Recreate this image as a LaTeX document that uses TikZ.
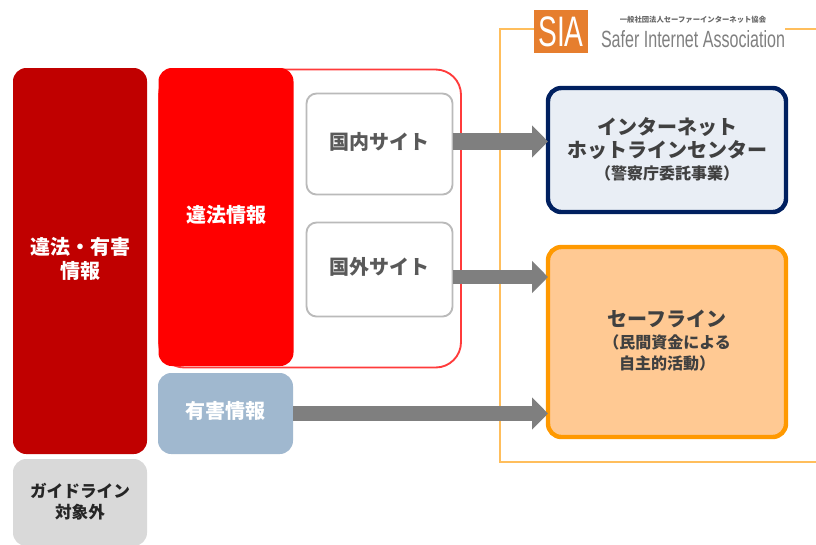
\documentclass[tikz,border=0pt]{standalone}
\usepackage{fontspec}
\setmainfont{Noto Sans CJK JP}
\newfontfamily\latinfont{Liberation Sans}
\usetikzlibrary{arrows.meta}
\definecolor{darkred}{HTML}{C00000}
\definecolor{framecol}{HTML}{FFBE5C}
\definecolor{redline}{HTML}{FF3B3B}
\definecolor{navy}{HTML}{002060}
\definecolor{paleblue}{HTML}{E9EEF5}
\definecolor{orangeline}{HTML}{FF9900}
\definecolor{orangefill}{HTML}{FFC993}
\definecolor{greyblue}{HTML}{A0B8CF}
\definecolor{arrowgrey}{HTML}{7F7F7F}
\definecolor{logoorange}{HTML}{E67E2E}
\tikzset{
  sz/.style 2 args={minimum width=#1*.75pt,minimum height=#2*.75pt},
  base/.style={inner sep=0pt,outer sep=0pt,align=center,font=\bfseries\fontsize{15}{18}\selectfont},
  whitebox/.style={base,text=white,rounded corners=10pt},
  sitebox/.style={base,draw=black!27,line width=1.4pt,fill=white,rounded corners=7.5pt,text=black!65},
  agencybox/.style={base,rounded corners=10pt,line width=3.3pt,text=black!75},
  bigarrow/.style={draw=arrowgrey,line width=#1,-{Triangle[length=12pt,width=23.5pt]}},
}
\newcommand{\subtext}[1]{{\fontsize{12}{15.5}\selectfont #1}}
\newcommand{\shiftup}[2]{\raisebox{#1}[0pt][0pt]{#2}}
\newcommand{\block}[2]{\parbox{#1}{\centering #2}}
\begin{document}
\begin{tikzpicture}[x=.75pt,y=-.75pt]
\useasboundingbox (0,0) rectangle (816,544);
\fill[white] (0,0) rectangle (816,544);
% left column
\node[whitebox,fill=darkred,sz={134}{386}] (all) at (80,261) {\shiftup{-1.7pt}{\block{95pt}{違法・有害\\情報}}};
\node[base,fill=black!15,rounded corners=10pt,text=black!85,sz={134}{87},font=\bfseries\fontsize{12.5}{15.5}\selectfont] (out) at (80,502.5) {\shiftup{-2.5pt}{\block{95pt}{ガイドライン\\[.2pt]対象外}}};
% orange frame
\node[base,fill=logoorange,sz={54}{43},text=white,font=\latinfont\fontsize{32}{32}\selectfont] (logo) at (561,31.5) {\scalebox{.66}[1]{SIA}};
\node[base,text=black!60,font=\bfseries\fontsize{5.5}{6}\selectfont] (logojp) at (693,20) {一般社団法人セーファーインターネット協会};
\node[base,text=black!50,font=\latinfont] (logoen) at (693,39.5) {\resizebox{138pt}{12.75pt}{Safer Internet Association}};
\coordinate (frameL) at (500,29);
\coordinate (frameBL) at (500,462);
\coordinate (frameBR) at (816,462);
\coordinate (frameTR) at (816,29);
\draw[framecol,line width=1.6pt] (logo.west |- frameL) -- (frameL) -- (frameBL) -- (frameBR);
\draw[framecol,line width=1.6pt] (785,29) -- (frameTR);
% illegal information group
\node[base,draw=redline,line width=1.4pt,fill=white,rounded corners=19pt,sz={302}{298}] (group) at (310,218.5) {};
\node[whitebox,fill=red,sz={135}{298}] (illegal) at (226,217) {\shiftup{-4.2pt}{違法情報}};
\node[sitebox,sz={146}{101}] (dom) at (379.5,144) {\shiftup{-4.2pt}{国内サイト}};
\node[sitebox,sz={146}{94}] (intl) at (379.5,269.5) {\shiftup{-3.8pt}{国外サイト}};
\node[whitebox,fill=greyblue,sz={135}{81}] (harm) at (225.5,413.5) {\shiftup{-3.8pt}{有害情報}};
% agencies
\node[agencybox,draw=navy,fill=paleblue,sz={238}{124}] (hot) at (667,150) {\shiftup{-2.9pt}{\block{175pt}{インターネット\\[-.5pt]ホットラインセンター\\[-2pt]\subtext{（警察庁委託事業）}}}};
\node[agencybox,draw=orangeline,fill=orangefill,sz={238}{190}] (safe) at (667,342) {\shiftup{-2.5pt}{\block{175pt}{セーフライン\\[-1.5pt]\subtext{（民間資金による}\\[-2.5pt]\subtext{自主的活動）}}}};
% arrows
\coordinate (rowA) at (0,141.5);
\coordinate (rowB) at (0,277);
\coordinate (rowC) at (0,413.5);
\draw[bigarrow=13pt] (dom.east |- rowA) -- (hot.west |- rowA);
\draw[bigarrow=11pt] (intl.east |- rowB) -- (safe.west |- rowB);
\draw[bigarrow=11.5pt] (harm.east |- rowC) -- (safe.west |- rowC);
\end{tikzpicture}
\end{document}
